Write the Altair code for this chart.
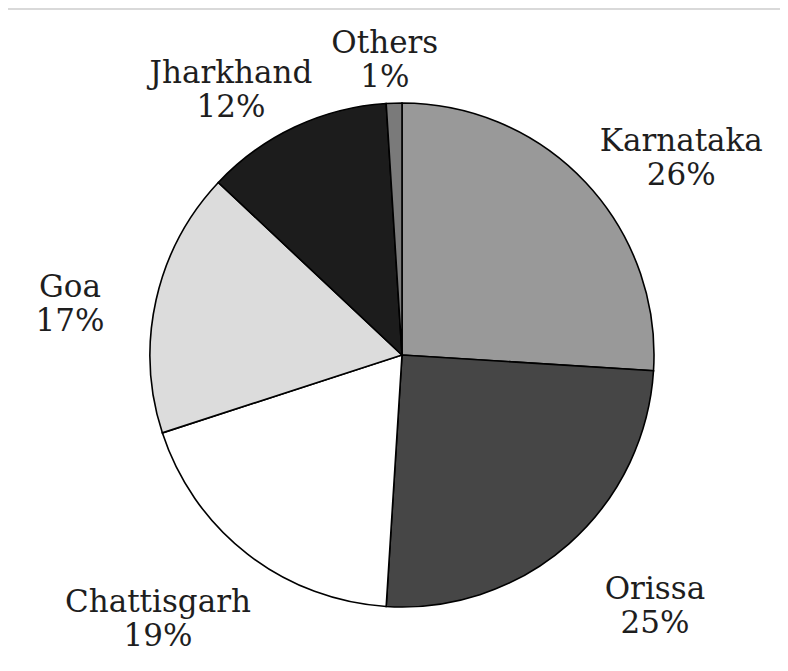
import altair as alt
import pandas as pd

states = ["Karnataka", "Orissa", "Chattisgarh", "Goa", "Jharkhand", "Others"]
shares = [26, 25, 19, 17, 12, 1]
colors = ["#999999", "#464646", "#ffffff", "#dcdcdc", "#1c1c1c", "#7a7a7a"]

df = pd.DataFrame({"state": states, "share": shares, "order": list(range(len(states)))})
df["label"] = df.apply(lambda r: [r["state"], f"{r['share']}%"], axis=1)

W, H = 772, 655
CX, CY = 394, 347
LX0, LY0 = CX - 5, CY + 18
RX, RY = 390, 312
LH = 34

base = alt.Chart(df)

pie = base.mark_arc(stroke="#000000", strokeWidth=1.6, outerRadius=252).encode(
    theta=alt.Theta("share:Q", stack=True),
    order=alt.Order("order:Q"),
    color=alt.Color("state:N", scale=alt.Scale(domain=states, range=colors), legend=None),
    x=alt.value(CX),
    y=alt.value(CY),
)

labels = base.transform_joinaggregate(
    total="sum(share)"
).transform_window(
    cum="sum(share)", sort=[alt.SortField("order")], frame=[None, 0]
).transform_calculate(
    mid="(datum.cum - datum.share / 2) / datum.total * 2 * PI",
).transform_calculate(
    lx=f"clamp({LX0} + {RX} * sin(datum.mid), 62, {W - 62})",
    ly=f"{LY0} - {RY} * cos(datum.mid) - {LH / 2}",
).mark_text(
    font="DejaVu Serif", fontSize=31, color="#1e1e1e",
    lineHeight=LH, align="center", baseline="middle",
).encode(
    text="label",
    x=alt.X("lx:Q", scale=None, axis=None),
    y=alt.Y("ly:Q", scale=None, axis=None),
)

border = alt.Chart(pd.DataFrame({"a": [0]})).mark_rule(color="#cccccc", strokeWidth=1.5).encode(
    x=alt.value(0), x2=alt.value(W), y=alt.value(1)
)

chart = alt.layer(pie, labels, border).properties(
    width=W, height=H,
    autosize=alt.AutoSizeParams(type="none"),
    padding=0,
).configure_view(stroke=None)

chart.save("out.html", embed_options={"renderer": "svg", "actions": False})
